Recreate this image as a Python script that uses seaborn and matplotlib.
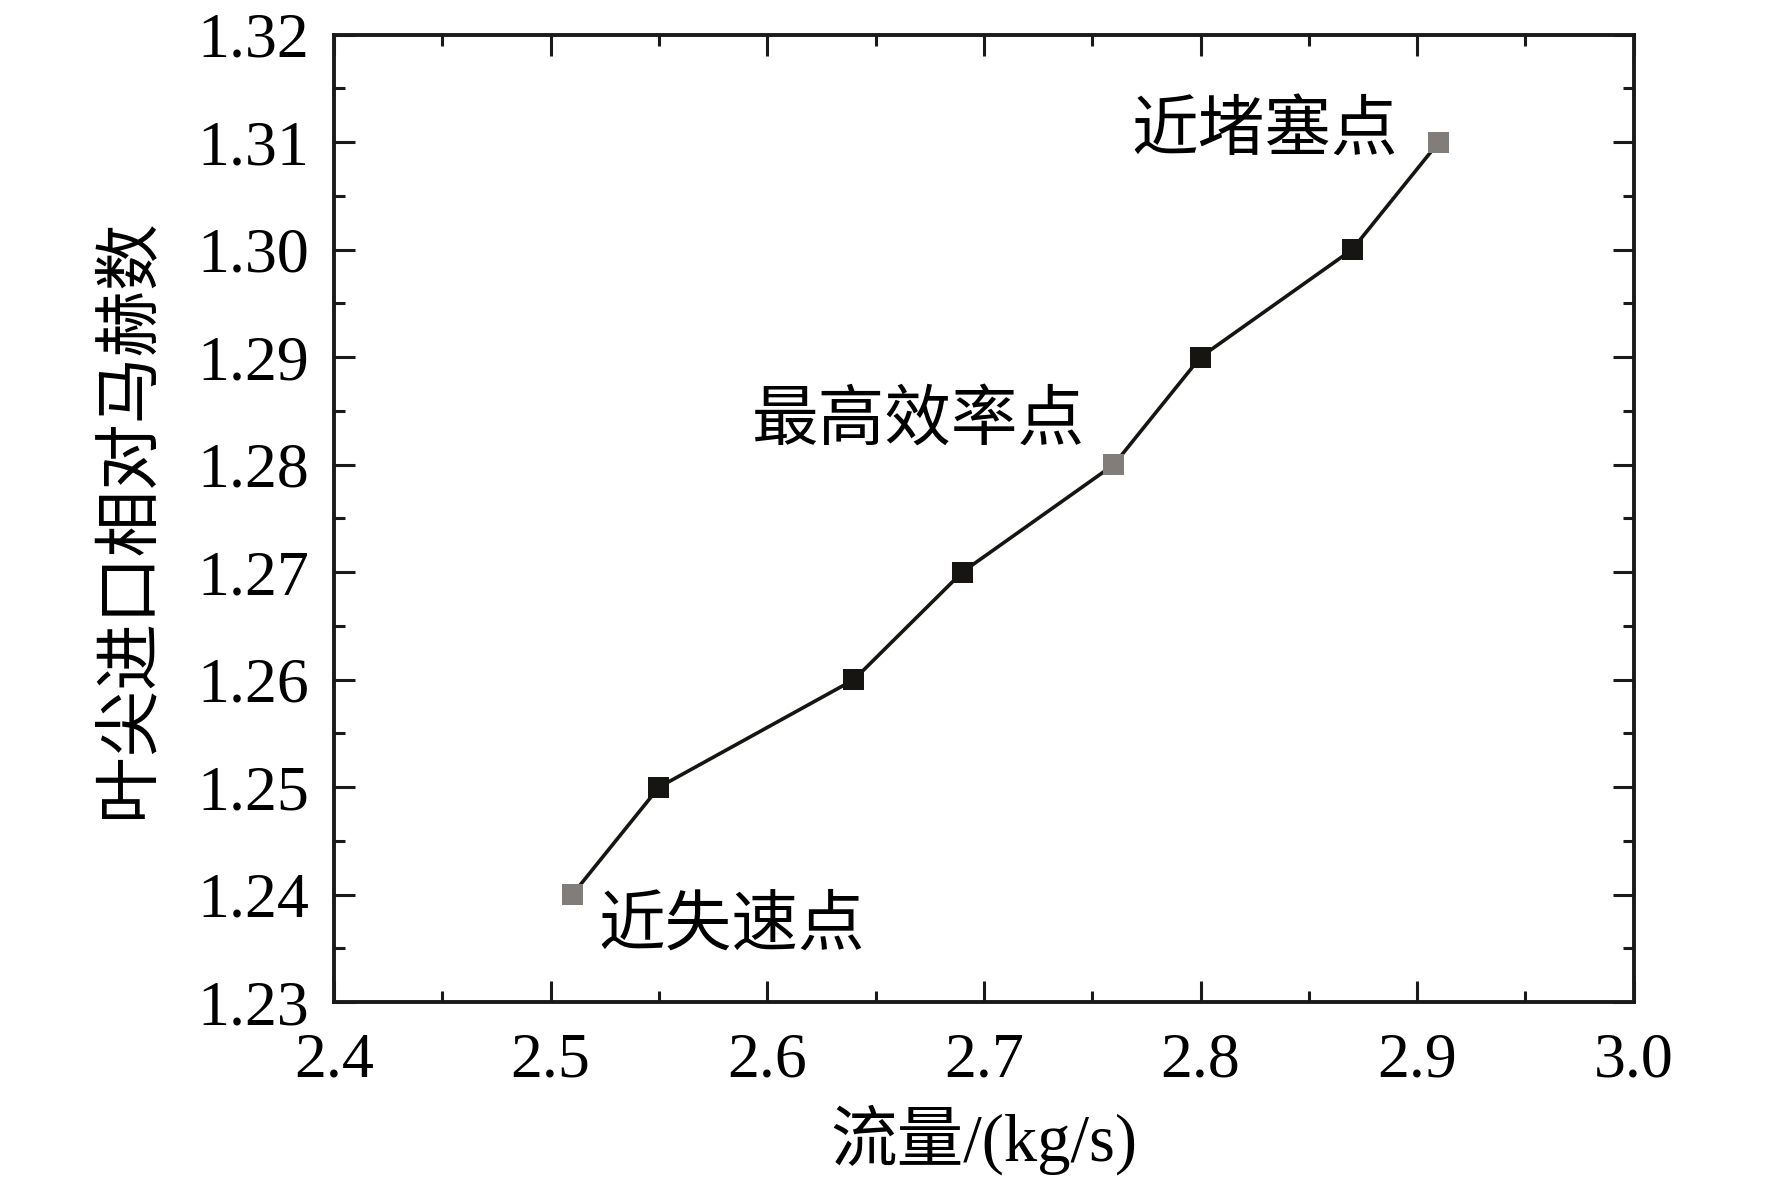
import matplotlib
matplotlib.use("Agg")
import matplotlib.pyplot as plt
import seaborn as sns
import pandas as pd
from matplotlib.ticker import MultipleLocator, FormatStrFormatter

flow = [2.51, 2.55, 2.64, 2.69, 2.76, 2.80, 2.87, 2.91]
mach = [1.24, 1.25, 1.26, 1.27, 1.28, 1.29, 1.30, 1.31]
kind = ["key", "normal", "normal", "normal", "key", "normal", "normal", "key"]
ann_text = ["近失速点", "最高效率点", "近堵塞点"]
ann_x = [2.522, 2.593, 2.768]
ann_y = [1.2369, 1.2839, 1.3108]

sns.set_theme(style="ticks")
plt.rcParams["font.family"] = ["Liberation Serif", "Noto Sans CJK SC"]
plt.rcParams["text.color"] = "black"
plt.rcParams["axes.labelcolor"] = "black"
plt.rcParams["xtick.color"] = "black"
plt.rcParams["ytick.color"] = "black"

df = pd.DataFrame({"flow": flow, "mach": mach, "kind": kind})

fig = plt.figure(figsize=(17.72, 11.91), dpi=100)
ax = fig.add_axes([0.1885, 0.1585, 0.7335, 0.8125])

sns.lineplot(data=df, x="flow", y="mach", ax=ax, color="#161512", linewidth=2.6,
             sort=False, estimator=None)
sns.scatterplot(data=df, x="flow", y="mach", hue="kind",
                palette={"key": "#807d7a", "normal": "#161512"},
                marker="s", s=230, linewidth=0, ax=ax, legend=False, zorder=3)

ax.set_xlim(2.4, 3.0)
ax.set_ylim(1.23, 1.32)
ax.xaxis.set_major_locator(MultipleLocator(0.1))
ax.xaxis.set_minor_locator(MultipleLocator(0.05))
ax.yaxis.set_major_locator(MultipleLocator(0.01))
ax.yaxis.set_minor_locator(MultipleLocator(0.005))
ax.xaxis.set_major_formatter(FormatStrFormatter("%.1f"))
ax.yaxis.set_major_formatter(FormatStrFormatter("%.2f"))

ax.tick_params(which="both", direction="in", top=True, right=True, color="#1a1a1a")
ax.tick_params(which="major", length=15, width=2.2, labelsize=46, labelcolor="black")
ax.tick_params(axis="x", which="major", pad=22)
ax.tick_params(axis="y", which="major", pad=18)
ax.tick_params(which="minor", length=8, width=2.2)
for s in ax.spines.values():
    s.set_linewidth(2.8)
    s.set_color("#1a1a1a")

ax.set_xlabel("流量/(kg/s)", fontsize=48, labelpad=10, color="black")
ax.set_ylabel("叶尖进口相对马赫数", fontsize=48, labelpad=26, color="black")

for t, x, y in zip(ann_text, ann_x, ann_y):
    ax.text(x, y, t, fontsize=48, ha="left", va="center", color="black")

fig.savefig("out.png", dpi=100, facecolor="white")
